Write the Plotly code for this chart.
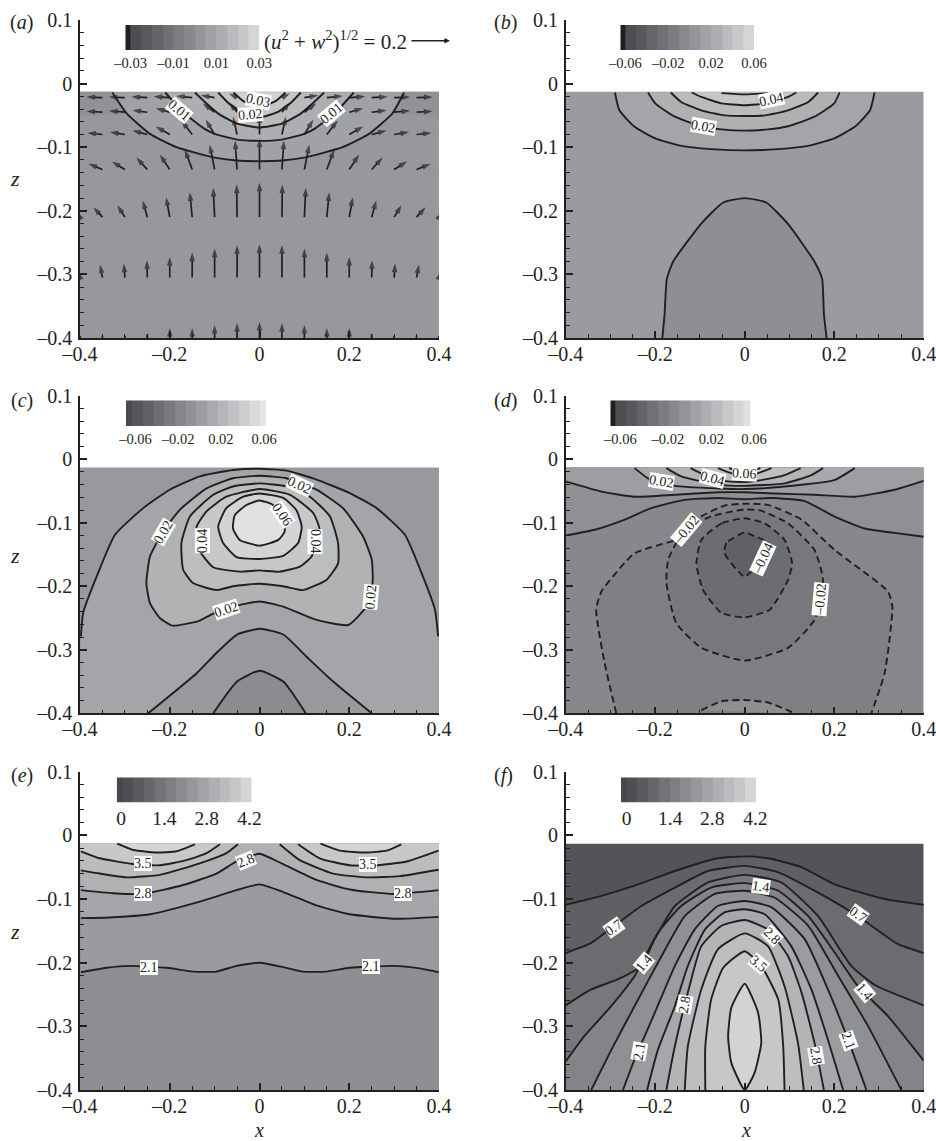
import plotly.graph_objects as go

# ---------- data ----------
X_TICKS = [-0.4, -0.2, 0, 0.2, 0.4]
X_TICK_TEXT = ["–0.4", "–0.2", "0", "0.2", "0.4"]
X_MINOR = [-0.35, -0.3, -0.25, -0.15, -0.1, -0.05, 0.05, 0.1, 0.15, 0.25, 0.3, 0.35]
Z_TICKS = [-0.4, -0.3, -0.2, -0.1, 0, 0.1]
Z_TICK_TEXT = ["–0.4", "–0.3", "–0.2", "–0.1", "0", "0.1"]
Z_MINOR = [-0.38, -0.36, -0.34, -0.32, -0.28, -0.26, -0.24, -0.22, -0.18, -0.16, -0.14, -0.12,
           -0.08, -0.06, -0.04, -0.02, 0.02, 0.04, 0.06, 0.08]
FIELD_TOP = -0.013
FIELD_BOTTOM = -0.4
FIELD_LEFT = -0.4
FIELD_RIGHT = 0.4

# (a)
A_CORNER_L = [(-0.4,-0.013),(-0.326,-0.013),(-0.296,-0.047),(-0.4,-0.052)]
A_CORNER_R = [(0.4,-0.013),(0.322,-0.013),(0.296,-0.047),(0.4,-0.052)]
A_CORNER_COLOR = "#919295"
A_1 = [(-0.328,-0.014),(-0.296,-0.047),(-0.244,-0.079),(-0.185,-0.100),(-0.103,-0.116),(-0.051,-0.121),(0,-0.122),(0.051,-0.121),(0.103,-0.116),(0.185,-0.100),(0.244,-0.079),(0.296,-0.047),(0.322,-0.014)]
A_2 = [(-0.21,-0.014),(-0.17,-0.045),(-0.125,-0.07),(-0.10,-0.079),(-0.05,-0.088),(0,-0.09),(0.05,-0.088),(0.10,-0.079),(0.125,-0.07),(0.17,-0.045),(0.21,-0.014)]
A_3 = [(-0.144,-0.014),(-0.12,-0.03),(-0.09,-0.048),(-0.05,-0.063),(0,-0.069),(0.05,-0.063),(0.09,-0.048),(0.12,-0.03),(0.144,-0.014)]
A_4 = [(-0.092,-0.014),(-0.07,-0.03),(-0.04,-0.045),(0,-0.053),(0.04,-0.045),(0.07,-0.03),(0.092,-0.014)]
A_5 = [(-0.058,-0.014),(-0.035,-0.028),(0,-0.036),(0.035,-0.028),(0.058,-0.014)]
A_COLORS = ["#97989b", "#a1a2a5", "#adaeb1", "#b9babc", "#c5c6c8", "#d1d2d4"]
A_LABELS = [("0.01",-0.178,-0.042,40),("0.01",0.16,-0.047,-40),("0.02",-0.02,-0.049,-5),("0.03",-0.003,-0.026,12)]

ARROW_X = [-0.4,-0.35,-0.3,-0.25,-0.2,-0.15,-0.1,-0.05,0,0.05,0.1,0.15,0.2,0.25,0.3,0.35,0.4]
ARROW_Z = [-0.022,-0.045,-0.08,-0.135,-0.21,-0.305,-0.4]
ARROW_U = [
 [-.07,-.08,-.08,-.08,-.08,-.08,-.07,-.04,0,.04,.07,.08,.08,.08,.08,.08,.07],
 [-.075,-.08,-.08,-.075,-.07,-.065,-.06,-.04,0,.04,.06,.065,.07,.075,.08,.08,.075],
 [-.07,-.075,-.075,-.075,-.07,-.055,-.045,-.02,0,.02,.045,.055,.07,.075,.075,.075,.07],
 [-.06,-.07,-.065,-.055,-.05,-.037,-.025,-.01,0,.01,.025,.037,.05,.055,.065,.07,.06],
 [-.015,-.045,-.037,-.023,-.018,-.012,-.007,-.002,0,.002,.007,.012,.018,.023,.037,.045,.015],
 [-.01,-.012,-.005,-.002,0,0,0,0,0,0,0,0,0,.002,.005,.012,.01],
 [0,0,0,0,0,0,0,0,0,0,0,0,0,0,0,0,0],
]
ARROW_W = [
 [.003,.003,.003,.004,.005,.008,.012,.02,.02,.02,.012,.008,.005,.004,.003,.003,.003],
 [.003,.005,.007,.01,.02,.03,.045,.05,.055,.05,.045,.03,.02,.01,.007,.005,.003],
 [.005,.008,.012,.02,.04,.07,.075,.09,.1,.09,.075,.07,.04,.02,.012,.008,.005],
 [.015,.028,.04,.06,.075,.1,.125,.145,.155,.145,.125,.1,.075,.06,.04,.028,.015],
 [.025,.05,.06,.083,.1,.125,.147,.163,.172,.163,.147,.125,.1,.083,.06,.05,.025],
 [.03,.065,.07,.087,.103,.125,.145,.162,.167,.162,.145,.125,.103,.087,.07,.065,.03],
 [.01,.01,.01,.02,.05,.05,.065,.075,.08,.075,.065,.05,.05,.02,.01,.01,.01],
]
REF_ARROW = 0.2

# (b)
B_1 = [(-0.29,-0.014),(-0.28,-0.042),(-0.246,-0.068),(-0.20,-0.086),(-0.142,-0.098),(-0.075,-0.103),(0,-0.105),(0.075,-0.103),(0.142,-0.098),(0.20,-0.086),(0.246,-0.068),(0.28,-0.042),(0.29,-0.014)]
B_2 = [(-0.216,-0.014),(-0.20,-0.031),(-0.156,-0.052),(-0.097,-0.067),(-0.052,-0.072),(0,-0.074),(0.052,-0.072),(0.097,-0.067),(0.156,-0.052),(0.20,-0.031),(0.212,-0.014)]
B_3 = [(-0.165,-0.014),(-0.142,-0.029),(-0.097,-0.042),(-0.045,-0.05),(0,-0.051),(0.045,-0.05),(0.097,-0.042),(0.142,-0.029),(0.164,-0.014)]
B_4 = [(-0.118,-0.014),(-0.097,-0.021),(-0.052,-0.031),(0,-0.034),(0.052,-0.031),(0.097,-0.021),(0.115,-0.014)]
B_5 = [(-0.052,-0.015),(0,-0.017),(0.052,-0.015)]
B_6 = [(-0.184,-0.4),(-0.179,-0.362),(-0.174,-0.307),(-0.16,-0.28),(-0.097,-0.22),(-0.048,-0.187),(0,-0.18),(0.048,-0.187),(0.097,-0.221),(0.156,-0.28),(0.173,-0.307),(0.177,-0.362),(0.183,-0.4)]
B_COLORS = ["#9a9b9e", "#a4a5a8", "#afb0b2", "#babbbd", "#c5c6c8", "#d0d1d3", "#8e8f92"]
B_LABELS = [("0.04",0.06,-0.025,-12),("0.02",-0.091,-0.067,10)]

# (c)
C_1 = [(-0.398,-0.279),(-0.393,-0.242),(-0.363,-0.185),(-0.322,-0.119),(-0.259,-0.077),(-0.2,-0.048),(-0.133,-0.027),(-0.059,-0.017),(0,-0.015),(0.06,-0.018),(0.127,-0.032),(0.2,-0.053),(0.261,-0.077),(0.324,-0.119),(0.361,-0.179),(0.391,-0.237),(0.398,-0.279)]
C_2 = [(0,-0.224),(-0.059,-0.232),(-0.103,-0.243),(-0.133,-0.254),(-0.194,-0.262),(-0.222,-0.25),(-0.244,-0.227),(-0.252,-0.195),(-0.244,-0.153),(-0.215,-0.114),(-0.178,-0.08),(-0.118,-0.046),(-0.059,-0.03),(0,-0.026),(0.06,-0.03),(0.127,-0.048),(0.186,-0.077),(0.231,-0.122),(0.25,-0.158),(0.252,-0.195),(0.238,-0.232),(0.198,-0.261),(0.127,-0.253),(0.053,-0.232)]
C_3 = [(0,-0.196),(-0.059,-0.2),(-0.096,-0.206),(-0.148,-0.195),(-0.17,-0.174),(-0.174,-0.132),(-0.155,-0.09),(-0.103,-0.056),(-0.059,-0.043),(0,-0.038),(0.06,-0.043),(0.112,-0.059),(0.157,-0.09),(0.175,-0.132),(0.175,-0.164),(0.149,-0.19),(0.097,-0.206),(0.053,-0.2)]
C_4 = [(0,-0.175),(-0.044,-0.177),(-0.103,-0.17),(-0.14,-0.137),(-0.14,-0.106),(-0.118,-0.082),(-0.074,-0.059),(0,-0.047),(0.068,-0.056),(0.12,-0.085),(0.134,-0.111),(0.116,-0.153),(0.09,-0.169),(0.045,-0.177)]
C_5 = [(0,-0.157),(-0.051,-0.154),(-0.081,-0.132),(-0.092,-0.106),(-0.074,-0.077),(-0.036,-0.059),(0,-0.054),(0.053,-0.061),(0.082,-0.08),(0.094,-0.106),(0.086,-0.132),(0.053,-0.152)]
C_6 = [(0,-0.136),(-0.044,-0.127),(-0.059,-0.109),(-0.055,-0.088),(-0.029,-0.072),(0,-0.065),(0.03,-0.072),(0.053,-0.095),(0.056,-0.114),(0.042,-0.127)]
C_7 = [(-0.248,-0.4),(-0.14,-0.337),(-0.096,-0.305),(-0.05,-0.276),(0,-0.267),(0.053,-0.276),(0.105,-0.311),(0.164,-0.35),(0.25,-0.4)]
C_8 = [(-0.103,-0.4),(-0.05,-0.35),(0,-0.333),(0.053,-0.35),(0.103,-0.4)]
C_COLORS = ["#98999c", "#a4a5a8", "#b1b2b4", "#bcbdbf", "#c7c8ca", "#d3d4d6", "#e0e1e2", "#98999c", "#8b8c8f"]
C_LABELS = [("0.02",0.09,-0.042,25),("0.02",-0.215,-0.115,-60),("0.06",0.051,-0.087,55),("0.04",-0.128,-0.129,-90),("0.04",0.123,-0.13,90),("0.02",-0.074,-0.237,-18),("0.02",0.247,-0.217,-85)]

# (d)
D_1 = [(-0.4,-0.12),(-0.335,-0.111),(-0.268,-0.095),(-0.209,-0.077),(-0.134,-0.064),(-0.06,-0.061),(0,-0.063),(0.06,-0.061),(0.134,-0.066),(0.2,-0.09),(0.268,-0.109),(0.335,-0.116),(0.4,-0.122)]
D_2 = [(-0.4,-0.035),(-0.32,-0.051),(-0.246,-0.059),(-0.156,-0.056),(-0.06,-0.052),(0,-0.052),(0.067,-0.054),(0.156,-0.056),(0.246,-0.059),(0.335,-0.048),(0.4,-0.034)]
D_3 = [(-0.246,-0.014),(-0.216,-0.03),(-0.156,-0.042),(-0.06,-0.046),(0,-0.047),(0.089,-0.043),(0.2,-0.033),(0.246,-0.014)]
D_4 = [(-0.175,-0.014),(-0.142,-0.027),(-0.06,-0.04),(0,-0.042),(0.089,-0.038),(0.149,-0.025),(0.175,-0.014)]
D_5 = [(-0.121,-0.014),(-0.089,-0.025),(-0.045,-0.034),(0,-0.036),(0.052,-0.031),(0.089,-0.025),(0.125,-0.014)]
D_6 = [(-0.06,-0.014),(-0.03,-0.022),(0,-0.028),(0.03,-0.022),(0.06,-0.014)]
D_7 = [(-0.035,-0.014),(0,-0.022),(0.035,-0.014)]
D_8 = [(-0.287,-0.4),(-0.313,-0.321),(-0.332,-0.237),(-0.32,-0.208),(-0.246,-0.148),(-0.156,-0.127),(-0.13,-0.111),(-0.097,-0.09),(-0.045,-0.073),(0,-0.07),(0.052,-0.072),(0.127,-0.095),(0.201,-0.143),(0.32,-0.208),(0.33,-0.232),(0.313,-0.336),(0.283,-0.4)]
D_9 = [(0,-0.079),(-0.075,-0.09),(-0.134,-0.111),(-0.171,-0.158),(-0.175,-0.195),(-0.153,-0.258),(-0.097,-0.297),(0,-0.317),(0.097,-0.297),(0.156,-0.253),(0.175,-0.19),(0.156,-0.143),(0.097,-0.101),(0.037,-0.081)]
D_10 = [(0,-0.093),(-0.052,-0.101),(-0.097,-0.127),(-0.108,-0.164),(-0.093,-0.206),(-0.052,-0.242),(0,-0.249),(0.056,-0.237),(0.097,-0.19),(0.106,-0.164),(0.089,-0.127),(0.045,-0.101)]
D_11 = [(0,-0.115),(-0.041,-0.132),(-0.045,-0.148),(0,-0.185),(0.03,-0.164),(0.052,-0.132),(0.015,-0.119)]
D_12 = [(-0.097,-0.395),(-0.052,-0.381),(0,-0.379),(0.052,-0.383),(0.112,-0.4)]
D_COLORS = ["#87888b", "#8f9093", "#9d9ea1", "#a8a9ac", "#b3b4b6", "#bebfc1", "#c9cacc", "#d4d5d7", "#7f8083", "#77787b", "#6c6d70", "#606164", "#8e8f92"]
D_LABELS = [("0.02",-0.186,-0.035,10),("0.04",-0.072,-0.031,15),("0.06",0,-0.023,3),("–0.02",-0.13,-0.111,-50),("–0.04",0.041,-0.157,-65),("–0.02",0.17,-0.22,-85)]

# (e)
E_1L = [(-0.317,-0.013),(-0.281,-0.023),(-0.23,-0.027),(-0.185,-0.025),(-0.144,-0.014)]
E_1R = [(0.136,-0.013),(0.179,-0.024),(0.238,-0.027),(0.283,-0.024),(0.316,-0.014)]
E_2L = [(-0.398,-0.025),(-0.356,-0.036),(-0.282,-0.045),(-0.222,-0.047),(-0.163,-0.039),(-0.118,-0.028),(-0.088,-0.014)]
E_2R = [(0.086,-0.014),(0.134,-0.036),(0.201,-0.047),(0.26,-0.047),(0.328,-0.041),(0.399,-0.024)]
E_3L = [(-0.398,-0.055),(-0.356,-0.06),(-0.296,-0.066),(-0.222,-0.062),(-0.133,-0.044),(-0.074,-0.028),(-0.048,-0.014)]
E_3R = [(0.045,-0.014),(0.09,-0.039),(0.164,-0.06),(0.238,-0.066),(0.313,-0.064),(0.399,-0.054)]
E_4 = [(-0.398,-0.086),(-0.326,-0.091),(-0.259,-0.092),(-0.17,-0.078),(-0.096,-0.06),(-0.051,-0.041),(0,-0.029),(0.049,-0.044),(0.127,-0.07),(0.201,-0.085),(0.298,-0.092),(0.399,-0.086)]
E_5 = [(-0.398,-0.13),(-0.334,-0.129),(-0.244,-0.124),(-0.133,-0.104),(-0.051,-0.086),(0,-0.077),(0.053,-0.089),(0.127,-0.11),(0.201,-0.124),(0.305,-0.131),(0.399,-0.128)]
E_6 = [(-0.398,-0.215),(-0.341,-0.208),(-0.289,-0.205),(-0.207,-0.208),(-0.148,-0.214),(-0.096,-0.214),(-0.051,-0.205),(0,-0.2),(0.053,-0.207),(0.097,-0.214),(0.149,-0.214),(0.201,-0.208),(0.298,-0.205),(0.357,-0.209),(0.399,-0.215)]
E_COLORS = ["#8e8f92", "#9a9b9e", "#a5a6a9", "#b0b1b3", "#bbbcbe", "#c7c8ca", "#d3d4d6"]
E_LABELS = [("3.5",-0.259,-0.044,0),("3.5",0.242,-0.046,0),("2.8",-0.259,-0.091,0),("2.8",0.319,-0.092,0),("2.8",-0.03,-0.04,-22),("2.1",-0.246,-0.207,0),("2.1",0.248,-0.206,0)]

# (f)
F_1 = [(-0.4,-0.109),(-0.32,-0.095),(-0.246,-0.079),(-0.156,-0.056),(-0.06,-0.036),(0,-0.033),(0.052,-0.036),(0.127,-0.05),(0.201,-0.077),(0.313,-0.1),(0.4,-0.109)]
F_2 = [(-0.4,-0.185),(-0.343,-0.169),(-0.291,-0.142),(-0.231,-0.111),(-0.156,-0.082),(-0.082,-0.056),(0,-0.048),(0.075,-0.058),(0.164,-0.09),(0.253,-0.127),(0.343,-0.171),(0.4,-0.185)]
F_3 = [(-0.4,-0.267),(-0.343,-0.242),(-0.283,-0.226),(-0.231,-0.205),(-0.201,-0.163),(-0.156,-0.111),(-0.082,-0.074),(0,-0.062),(0.082,-0.074),(0.164,-0.127),(0.238,-0.205),(0.291,-0.235),(0.4,-0.267)]
F_4 = [(-0.4,-0.355),(-0.358,-0.315),(-0.298,-0.268),(-0.246,-0.221),(-0.194,-0.153),(-0.142,-0.111),(-0.075,-0.082),(0,-0.075),(0.075,-0.087),(0.142,-0.127),(0.201,-0.184),(0.253,-0.237),(0.32,-0.284),(0.4,-0.354)]
F_5 = [(-0.343,-0.4),(-0.298,-0.337),(-0.246,-0.268),(-0.186,-0.19),(-0.134,-0.127),(-0.067,-0.092),(0,-0.087),(0.067,-0.098),(0.142,-0.142),(0.209,-0.221),(0.276,-0.3),(0.35,-0.4)]
F_6 = [(-0.272,-0.4),(-0.246,-0.352),(-0.201,-0.279),(-0.156,-0.205),(-0.112,-0.148),(-0.06,-0.111),(0,-0.103),(0.06,-0.113),(0.134,-0.163),(0.186,-0.242),(0.231,-0.321),(0.272,-0.4)]
F_7 = [(-0.218,-0.4),(-0.194,-0.337),(-0.156,-0.268),(-0.127,-0.205),(-0.089,-0.148),(-0.045,-0.121),(0,-0.116),(0.045,-0.124),(0.104,-0.174),(0.149,-0.242),(0.186,-0.321),(0.22,-0.4)]
F_8 = [(-0.175,-0.4),(-0.156,-0.331),(-0.127,-0.247),(-0.097,-0.174),(-0.052,-0.142),(0,-0.133),(0.052,-0.148),(0.097,-0.19),(0.127,-0.247),(0.156,-0.326),(0.177,-0.4)]
F_9 = [(-0.134,-0.4),(-0.127,-0.331),(-0.097,-0.242),(-0.06,-0.179),(0,-0.154),(0.052,-0.174),(0.089,-0.237),(0.119,-0.326),(0.132,-0.4)]
F_10 = [(-0.088,-0.4),(-0.088,-0.331),(-0.075,-0.258),(-0.048,-0.208),(0,-0.182),(0.037,-0.205),(0.075,-0.258),(0.086,-0.331),(0.089,-0.4)]
F_11 = [(0,-0.233),(-0.03,-0.271),(-0.037,-0.316),(-0.03,-0.357),(0,-0.4),(0.022,-0.373),(0.037,-0.326),(0.03,-0.279)]
F_COLORS = ["#535457", "#5f6063", "#6b6c6f", "#77787b", "#838487", "#8f9093", "#9b9c9f", "#a7a8ab", "#b3b4b6", "#bdbec0", "#c6c7c9", "#d2d3d5"]
F_LABELS = [("1.4",0.037,-0.08,8),("0.7",-0.292,-0.145,-35),("0.7",0.253,-0.125,35),("1.4",-0.224,-0.2,-50),("2.8",0.06,-0.158,45),("3.5",0.031,-0.201,40),("1.4",0.268,-0.245,50),("2.8",-0.134,-0.266,-80),("2.1",-0.236,-0.339,-80),("2.1",0.231,-0.323,70),("2.8",0.16,-0.347,80)]

# colour keys
KEY_AB_COLORS = ["#231f20","#4d4e51","#58595c","#646568","#707174","#7c7d80","#88898c","#949598","#a1a2a5","#adaeb1","#babbbd","#c7c8ca","#d4d5d7"]
KEY_C_COLORS = ["#4a4b4e","#55565a","#616265","#6d6e71","#797a7d","#85868a","#919296","#9d9ea1","#a9aaad","#b5b6b9","#c1c2c4","#cdcecf","#d9dadc","#e4e5e6"]
KEY_D_COLORS = ["#231f20","#4d4e51","#58595c","#646568","#707174","#7c7d80","#88898c","#949598","#a1a2a5","#adaeb1","#babbbd","#c7c8ca","#d4d5d7","#dfe0e1"]
KEY_EF_COLORS = ["#47484b","#4e4f52","#5a5b5e","#66676a","#727376","#7e7f82","#8a8b8e","#96979a","#a2a3a6","#aeafb2","#babbbd","#c6c7c9","#d4d5d7"]
KEY_A_EDGES = [-0.0325,-0.03,-0.025,-0.02,-0.015,-0.01,-0.005,0,0.005,0.01,0.015,0.02,0.025,0.03]
KEY_B_EDGES = [-0.0647,-0.06,-0.05,-0.04,-0.03,-0.02,-0.01,0,0.01,0.02,0.03,0.04,0.05,0.06]
KEY_C_EDGES = [-0.0659,-0.06,-0.05,-0.04,-0.03,-0.02,-0.01,0,0.01,0.02,0.03,0.04,0.05,0.06,0.0653]
KEY_D_EDGES = [-0.065,-0.06,-0.05,-0.04,-0.03,-0.02,-0.01,0,0.01,0.02,0.03,0.04,0.05,0.06,0.0666]
KEY_EF_EDGES = [-0.18,0,0.35,0.7,1.05,1.4,1.75,2.1,2.45,2.8,3.15,3.5,3.85,4.2]
KEY_A_TICKS = [-0.03,-0.01,0.01,0.03]
KEY_A_TEXT = ["–0.03","–0.01","0.01","0.03"]
KEY_B_TICKS = [-0.06,-0.02,0.02,0.06]
KEY_B_TEXT = ["–0.06","–0.02","0.02","0.06"]
KEY_C_TICKS = [-0.057,-0.017,0.023,0.0635]
KEY_D_TICKS = [-0.0556,-0.011,0.0297,0.0697]
KEY_E_TICKS = [-0.04,1.365,2.74,4.13]
KEY_F_TICKS = [0,1.418,2.78,4.18]
KEY_EF_TEXT = ["0","1.4","2.8","4.2"]
KEY_D_RANGE_END = 0.072

# ---------- page geometry (pixels) ----------
W, H = 936, 1141
INK = "#231f20"
SERIF = "Liberation Serif"
COL = [(80.0, 439.0), (565.7, 923.7)]
ROW = [(20.0, 338.0), (395.7, 713.3), (771.7, 1090.0)]
KEYBOX = [((125.3,259.3),(25,50)), ((620.3,754),(25,50)), ((126,266),(400.3,426)),
          ((610.3,756.5),(400.3,426)), ((116.7,251.7),(777.3,802.7)), ((621,756),(777.3,802.7))]

fig = go.Figure()
ann = []

def px(x, y):
    return x / W, 1 - y / H

def names(i):
    s = "" if i == 1 else str(i)
    return "x" + s, "y" + s

def area(i, pts, color, corners=()):
    xa, ya = names(i)
    p = list(pts) + list(corners)
    fig.add_trace(go.Scatter(x=[q[0] for q in p], y=[q[1] for q in p], xaxis=xa, yaxis=ya, mode="lines",
                             line=dict(width=0), fill="toself", fillcolor=color, hoverinfo="skip", showlegend=False))

def curve(i, pts, closed=False, dash="solid"):
    xa, ya = names(i)
    p = list(pts) + ([pts[0]] if closed else [])
    fig.add_trace(go.Scatter(x=[q[0] for q in p], y=[q[1] for q in p], xaxis=xa, yaxis=ya, mode="lines",
                             line=dict(color=INK, width=1.9, dash=dash, shape="spline", smoothing=0.5),
                             hoverinfo="skip", showlegend=False))

def field(i, color):
    area(i, [(FIELD_LEFT, FIELD_BOTTOM), (FIELD_RIGHT, FIELD_BOTTOM), (FIELD_RIGHT, FIELD_TOP), (FIELD_LEFT, FIELD_TOP)], color)

def labels(i, items):
    xa, ya = names(i)
    for text, x, z, angle in items:
        ann.append(dict(x=x, y=z, xref=xa, yref=ya, text=text, textangle=angle, showarrow=False, bgcolor="white",
                        borderpad=0, borderwidth=0, font=dict(family=SERIF, size=14, color=INK)))

TOP_L, TOP_R = (FIELD_LEFT, FIELD_TOP), (FIELD_RIGHT, FIELD_TOP)
BOT_L, BOT_R = (FIELD_LEFT, FIELD_BOTTOM), (FIELD_RIGHT, FIELD_BOTTOM)

# (a)
field(1, A_COLORS[0])
area(1, A_CORNER_L, A_CORNER_COLOR)
area(1, A_CORNER_R, A_CORNER_COLOR)
for pts, c in zip([A_1, A_2, A_3, A_4, A_5], A_COLORS[1:]):
    area(1, pts, c)
for pts in [A_1, A_2, A_3, A_4, A_5]:
    curve(1, pts)
ax_, ay_, sz_ = [], [], []
PX_X = (COL[0][1] - COL[0][0]) / 0.8
PX_Z = (ROW[0][1] - ROW[0][0]) / 0.5
SCALE = 40 / REF_ARROW
for z, us, ws in zip(ARROW_Z, ARROW_U, ARROW_W):
    for x, u, w in zip(ARROW_X, us, ws):
        ax_ += [x, x + u * SCALE / PX_X, None]
        ay_ += [z, z + w * SCALE / PX_Z, None]
        sz_ += [0, 9, 0]
fig.add_trace(go.Scatter(x=ax_, y=ay_, xaxis="x", yaxis="y", mode="lines+markers",
                         line=dict(color=INK, width=1.7),
                         marker=dict(symbol="arrow", angleref="previous", size=sz_, color=INK, line=dict(width=0)),
                         hoverinfo="skip", showlegend=False))
labels(1, A_LABELS)

# (b)
field(2, B_COLORS[0])
for pts, c in zip([B_1, B_2, B_3, B_4, B_5, B_6], B_COLORS[1:]):
    area(2, pts, c)
for pts in [B_1, B_2, B_3, B_4, B_5, B_6]:
    curve(2, pts)
labels(2, B_LABELS)

# (c)
field(3, C_COLORS[0])
area(3, C_1, C_COLORS[1], [BOT_R, BOT_L])
for pts, c in zip([C_2, C_3, C_4, C_5, C_6, C_7, C_8], C_COLORS[2:]):
    area(3, pts, c)
curve(3, C_1)
for pts in [C_2, C_3, C_4, C_5, C_6]:
    curve(3, pts, closed=True)
curve(3, C_7)
curve(3, C_8)
labels(3, C_LABELS)

# (d)
field(4, D_COLORS[0])
area(4, D_1, D_COLORS[1], [TOP_R, TOP_L])
area(4, D_2, D_COLORS[2], [TOP_R, TOP_L])
for pts, c in zip([D_3, D_4, D_5, D_6, D_7], D_COLORS[3:8]):
    area(4, pts, c)
for pts, c in zip([D_8, D_9, D_10, D_11, D_12], D_COLORS[8:]):
    area(4, pts, c)
for pts in [D_1, D_2, D_3, D_4, D_5, D_6, D_7]:
    curve(4, pts)
curve(4, D_8, dash="7px,4px")
for pts in [D_9, D_10, D_11]:
    curve(4, pts, closed=True, dash="7px,4px")
curve(4, D_12, dash="7px,4px")
labels(4, D_LABELS)

# (e)
field(5, E_COLORS[0])
area(5, E_6, E_COLORS[1], [TOP_R, TOP_L])
area(5, E_5, E_COLORS[2], [TOP_R, TOP_L])
area(5, E_4, E_COLORS[3], [TOP_R, TOP_L])
area(5, E_3L, E_COLORS[4], [TOP_L])
area(5, E_3R, E_COLORS[4], [TOP_R])
area(5, E_2L, E_COLORS[5], [TOP_L])
area(5, E_2R, E_COLORS[5], [TOP_R])
area(5, E_1L, E_COLORS[6])
area(5, E_1R, E_COLORS[6])
for pts in [E_1L, E_1R, E_2L, E_2R, E_3L, E_3R, E_4, E_5, E_6]:
    curve(5, pts)
labels(5, E_LABELS)

# (f)
field(6, F_COLORS[0])
for pts, c in zip([F_1, F_2, F_3, F_4], F_COLORS[1:5]):
    area(6, pts, c, [BOT_R, BOT_L])
for pts, c in zip([F_5, F_6, F_7, F_8, F_9, F_10, F_11], F_COLORS[5:]):
    area(6, pts, c)
for pts in [F_1, F_2, F_3, F_4, F_5, F_6, F_7, F_8, F_9, F_10]:
    curve(6, pts)
curve(6, F_11, closed=True)
labels(6, F_LABELS)

# axes
layout = dict(width=W, height=H, margin=dict(l=0, r=0, t=0, b=0, autoexpand=False), paper_bgcolor="white",
              plot_bgcolor="rgba(0,0,0,0)", showlegend=False, font=dict(family=SERIF, color=INK))
for k in range(6):
    i = k + 1
    c, r = k % 2, k // 2
    s = "" if i == 1 else str(i)
    common = dict(showgrid=False, zeroline=False, showline=True, linecolor=INK, linewidth=1.6, ticks="inside",
                  ticklen=7, tickwidth=1.6, tickcolor=INK, tickfont=dict(family=SERIF, size=20, color=INK),
                  layer="above traces", ticklabeloverflow="allow")
    layout["xaxis" + s] = dict(common, domain=[COL[c][0] / W, COL[c][1] / W], range=[-0.4, 0.4], anchor="y" + s,
                               tickvals=X_TICKS, ticktext=X_TICK_TEXT, ticklabelstandoff=-3,
                               minor=dict(tickvals=X_MINOR, ticks="inside", ticklen=4, tickwidth=1, tickcolor=INK))
    layout["yaxis" + s] = dict(common, domain=[1 - ROW[r][1] / H, 1 - ROW[r][0] / H], range=[-0.4, 0.1], anchor="x" + s,
                               tickvals=Z_TICKS, ticktext=Z_TICK_TEXT, ticklabelstandoff=2,
                               minor=dict(tickvals=Z_MINOR, ticks="inside", ticklen=4, tickwidth=1, tickcolor=INK))

# colour keys
KEYS = [(KEY_AB_COLORS, KEY_A_EDGES, KEY_A_TICKS, KEY_A_TEXT, 14.5, KEY_A_EDGES[-1]),
        (KEY_AB_COLORS, KEY_B_EDGES, KEY_B_TICKS, KEY_B_TEXT, 14.5, KEY_B_EDGES[-1]),
        (KEY_C_COLORS, KEY_C_EDGES, KEY_C_TICKS, KEY_B_TEXT, 14.5, KEY_C_EDGES[-1]),
        (KEY_D_COLORS, KEY_D_EDGES, KEY_D_TICKS, KEY_B_TEXT, 14.5, KEY_D_RANGE_END),
        (KEY_EF_COLORS, KEY_EF_EDGES, KEY_E_TICKS, KEY_EF_TEXT, 19.5, KEY_EF_EDGES[-1]),
        (KEY_EF_COLORS, KEY_EF_EDGES, KEY_F_TICKS, KEY_EF_TEXT, 19.5, KEY_EF_EDGES[-1])]
for k, (colors, edges, ticks, text, size, end) in enumerate(KEYS):
    i = 7 + k
    n = len(colors)
    scale = [[j / (n - 1), col] for j, col in enumerate(colors)]
    fig.add_trace(go.Heatmap(z=[list(range(n))], x=edges, y=[0, 1], xaxis="x%d" % i, yaxis="y%d" % i, zmin=0, zmax=n - 1,
                             colorscale=scale, showscale=False, hoverinfo="skip"))
    (x0, x1), (y0, y1) = KEYBOX[k]
    layout["xaxis%d" % i] = dict(domain=[x0 / W, x1 / W], range=[edges[0], end], anchor="y%d" % i, showgrid=False,
                                 zeroline=False, showline=False, ticks="", tickvals=ticks, ticktext=text,
                                 tickfont=dict(family=SERIF, size=size, color=INK), ticklabelstandoff=2,
                                 ticklabeloverflow="allow")
    layout["yaxis%d" % i] = dict(domain=[1 - y1 / H, 1 - y0 / H], range=[0, 1], anchor="x%d" % i, showticklabels=False,
                                 ticks="", showline=False, showgrid=False, zeroline=False)

# free text
def note(x, y, text, size=20, anchor="center"):
    pa, pb = px(x, y)
    ann.append(dict(x=pa, y=pb, xref="paper", yref="paper", text=text, showarrow=False, xanchor=anchor, yanchor="middle",
                    font=dict(family=SERIF, size=size, color=INK)))

for (x, y), t in zip([(21.7,22.7),(505.3,22.7),(21.7,400),(505.3,400),(21.7,775),(503,775)], "abcdef"):
    note(x, y, "(<i>%s</i>)" % t)
for y in (179, 555.7, 931.7):
    note(15, y, "<i>z</i>", 22)
for x in (259, 745.7):
    note(x, 1129.5, "<i>x</i>", 20)
note(262, 41, "(<i>u</i><sup>2</sup> + <i>w</i><sup>2</sup>)<sup>1/2</sup> = 0.2", 21, "left")
pa, pb = px(450, 40.7)
ann.append(dict(x=pa, y=pb, xref="paper", yref="paper", ax=-40, ay=0, text="", showarrow=True, arrowhead=2, arrowsize=0.8,
                arrowwidth=1.4, arrowcolor=INK))

layout["annotations"] = ann
fig.update_layout(**layout)
fig.write_html("out.html", config={"displayModeBar": False}, post_script="document.body.style.margin='0';")
